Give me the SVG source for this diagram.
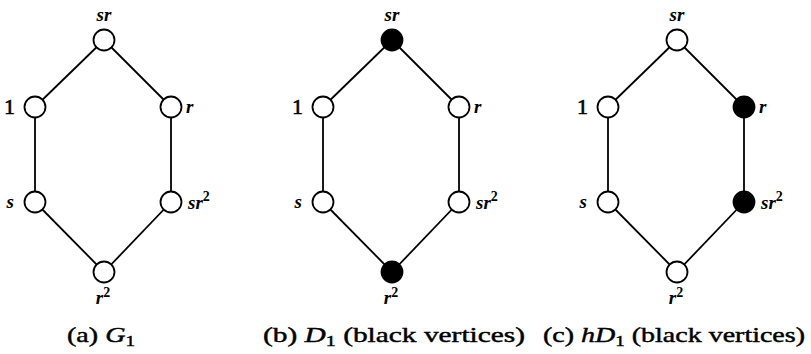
<svg xmlns="http://www.w3.org/2000/svg" width="811" height="354" viewBox="0 0 811 354">
<style>
.edge{stroke:#000;stroke-width:1.8;fill:none}
.v{stroke:#000;stroke-width:1.8;fill:#fff}
.b{fill:#000}
.m{font-family:"Liberation Serif",serif;font-style:italic;font-weight:bold;font-size:19px;fill:#000}
.n{font-family:"Liberation Serif",serif;font-size:22px;fill:#000;stroke:#000;stroke-width:0.6}
.cap{font-family:"Liberation Serif",serif;font-size:22px;fill:#000;stroke:#000;stroke-width:0.45}
.it{font-style:italic}
.sup{font-size:14px;font-style:normal}
.sub{font-size:15px}
</style>
<rect width="811" height="354" fill="#fff"/>
<!-- (a) -->
<g id="fig-a">
<g id="edges-a">
<line class="edge" x1="104" y1="40" x2="35" y2="107"/>
<line class="edge" x1="104" y1="40" x2="171" y2="107"/>
<line class="edge" x1="35" y1="107" x2="35" y2="202"/>
<line class="edge" x1="171" y1="107" x2="171" y2="202"/>
<line class="edge" x1="35" y1="202" x2="104" y2="272"/>
<line class="edge" x1="171" y1="202" x2="104" y2="272"/>
</g>
<g id="a-sr"><circle class="v" cx="104" cy="40" r="10.5"/><text class="m" x="104" y="21" text-anchor="middle">sr</text></g>
<g id="a-1"><circle class="v" cx="35" cy="107" r="10.5"/><text class="n" x="15" y="114" text-anchor="end">1</text></g>
<g id="a-r"><circle class="v" cx="171" cy="107" r="10.5"/><text class="m" x="186" y="113">r</text></g>
<g id="a-s"><circle class="v" cx="35" cy="202" r="10.5"/><text class="m" x="14" y="208" text-anchor="end">s</text></g>
<g id="a-sr2"><circle class="v" cx="171" cy="202" r="10.5"/><text class="m" x="188" y="209">sr<tspan class="sup" dy="-8">2</tspan></text></g>
<g id="a-r2"><circle class="v" cx="104" cy="272" r="10.5"/><text class="m" x="103" y="304" text-anchor="middle">r<tspan class="sup" dy="-7">2</tspan></text></g>
<text class="cap" x="67" y="342" textLength="68" lengthAdjust="spacingAndGlyphs">(a) <tspan class="it">G</tspan><tspan class="sub" dy="4">1</tspan></text>
</g>
<!-- (b) -->
<g id="fig-b">
<g id="edges-b">
<line class="edge" x1="392" y1="40" x2="323" y2="107"/>
<line class="edge" x1="392" y1="40" x2="459" y2="107"/>
<line class="edge" x1="323" y1="107" x2="323" y2="202"/>
<line class="edge" x1="459" y1="107" x2="459" y2="202"/>
<line class="edge" x1="323" y1="202" x2="392" y2="272"/>
<line class="edge" x1="459" y1="202" x2="392" y2="272"/>
</g>
<g id="b-sr"><circle class="v b" cx="392" cy="40" r="10.5"/><text class="m" x="392" y="21" text-anchor="middle">sr</text></g>
<g id="b-1"><circle class="v" cx="323" cy="107" r="10.5"/><text class="n" x="303" y="114" text-anchor="end">1</text></g>
<g id="b-r"><circle class="v" cx="459" cy="107" r="10.5"/><text class="m" x="474" y="113">r</text></g>
<g id="b-s"><circle class="v" cx="323" cy="202" r="10.5"/><text class="m" x="302" y="208" text-anchor="end">s</text></g>
<g id="b-sr2"><circle class="v" cx="459" cy="202" r="10.5"/><text class="m" x="476" y="209">sr<tspan class="sup" dy="-8">2</tspan></text></g>
<g id="b-r2"><circle class="v b" cx="392" cy="272" r="10.5"/><text class="m" x="391" y="304" text-anchor="middle">r<tspan class="sup" dy="-7">2</tspan></text></g>
<text class="cap" x="263" y="342" textLength="262" lengthAdjust="spacingAndGlyphs">(b) <tspan class="it">D</tspan><tspan class="sub" dy="4">1</tspan><tspan dy="-4"> (black vertices)</tspan></text>
</g>
<!-- (c) -->
<g id="fig-c">
<g id="edges-c">
<line class="edge" x1="677" y1="40" x2="608" y2="107"/>
<line class="edge" x1="677" y1="40" x2="744" y2="107"/>
<line class="edge" x1="608" y1="107" x2="608" y2="202"/>
<line class="edge" x1="744" y1="107" x2="744" y2="202"/>
<line class="edge" x1="608" y1="202" x2="677" y2="272"/>
<line class="edge" x1="744" y1="202" x2="677" y2="272"/>
</g>
<g id="c-sr"><circle class="v" cx="677" cy="40" r="10.5"/><text class="m" x="677" y="21" text-anchor="middle">sr</text></g>
<g id="c-1"><circle class="v" cx="608" cy="107" r="10.5"/><text class="n" x="588" y="114" text-anchor="end">1</text></g>
<g id="c-r"><circle class="v b" cx="744" cy="107" r="10.5"/><text class="m" x="759" y="113">r</text></g>
<g id="c-s"><circle class="v" cx="608" cy="202" r="10.5"/><text class="m" x="587" y="208" text-anchor="end">s</text></g>
<g id="c-sr2"><circle class="v b" cx="744" cy="202" r="10.5"/><text class="m" x="761" y="209">sr<tspan class="sup" dy="-8">2</tspan></text></g>
<g id="c-r2"><circle class="v" cx="677" cy="272" r="10.5"/><text class="m" x="676" y="304" text-anchor="middle">r<tspan class="sup" dy="-7">2</tspan></text></g>
<text class="cap" x="543" y="342" textLength="262" lengthAdjust="spacingAndGlyphs">(c) <tspan class="it">hD</tspan><tspan class="sub" dy="4">1</tspan><tspan dy="-4"> (black vertices)</tspan></text>
</g>
</svg>
